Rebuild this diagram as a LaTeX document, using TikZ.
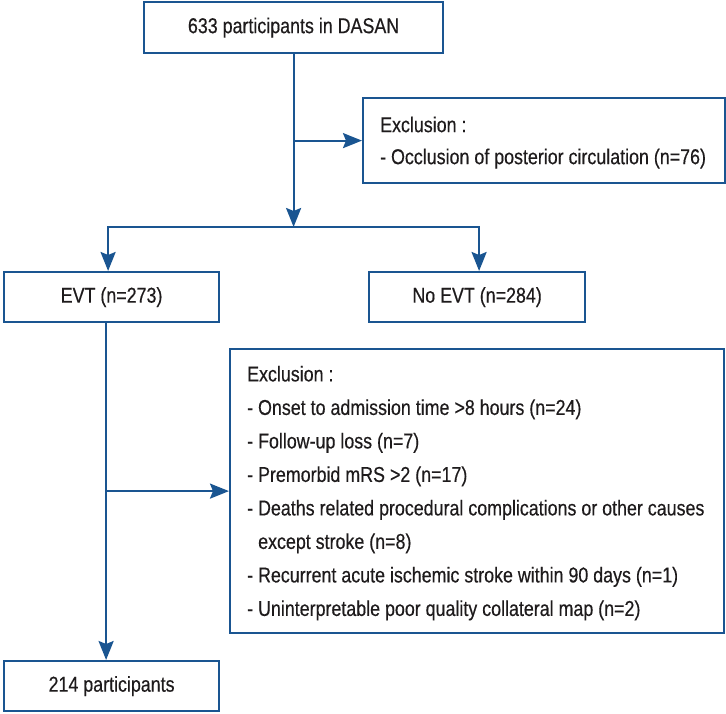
\documentclass[tikz,border=0pt]{standalone}
\usepackage{fontspec}
\setmainfont{Liberation Sans}[FakeStretch=0.83,FakeBold=0.4]
\usetikzlibrary{arrows.meta,calc}
\definecolor{fcblue}{RGB}{26,85,145}
\definecolor{fctext}{RGB}{30,27,28}
\begin{document}
\begin{tikzpicture}[x=1pt,y=-1pt,
  box/.style={draw=fcblue, line width=2.2pt, rectangle, inner sep=0pt, anchor=north west, text=fctext,
    font=\fontsize{21.5}{26}\selectfont},
  txt/.style={anchor=west, align=left, inner sep=0pt, text=fctext, font=\fontsize{21.5}{33.5}\selectfont},
  line/.style={draw=fcblue, line width=2.2pt},
  arr/.style={line, -{Stealth[length=19pt,width=15pt,inset=3pt]}}]
\useasboundingbox (0,0) rectangle (726,713);
\node[box, minimum width=299pt, minimum height=51pt] (top) at (143,1) {633 participants in DASAN};
\node[box, minimum width=362pt, minimum height=85pt] (ex1) at (362,97) {};
\node[txt, font=\fontsize{21.5}{32}\selectfont] (ex1t) at ($(ex1.west)+(18,2)$) {Exclusion :\\- Occlusion of posterior circulation (n=76)};
\node[box, minimum width=215pt, minimum height=50pt] (evt) at (3,271) {EVT (n=273)};
\node[box, minimum width=216pt, minimum height=50pt] (noevt) at (368,271) {No EVT (n=284)};
\node[box, minimum width=494pt, minimum height=284pt] (ex2) at (229,348) {};
\node[txt] (ex2t) at ($(ex2.west)+(18,2)$) {Exclusion :\\
- Onset to admission time >8 hours (n=24)\\
- Follow-up loss (n=7)\\
- Premorbid mRS >2 (n=17)\\
- Deaths related procedural complications or other causes\\
\hspace*{11pt}except stroke (n=8)\\
- Recurrent acute ischemic stroke within 90 days (n=1)\\
- Uninterpretable poor quality collateral map (n=2)};
\node[box, minimum width=215pt, minimum height=50pt] (final) at (3,660) {214 participants};
\coordinate (j1) at (top.south |- 0,227);
\coordinate (s1) at (top.south |- ex1.west);
\coordinate (evtin) at ($(evt.north)+(-3.5,0)$);
\coordinate (noevtin) at ($(noevt.north)+(2,0)$);
\coordinate (evtout) at ($(evt.south)+(-5.5,0)$);
\coordinate (finalin) at (evtout |- final.north);
\coordinate (s2) at (evtout |- ex2.west);
\draw[arr] (top.south) -- (j1);
\draw[arr] (s1) -- (ex1.west);
\draw[arr] (j1) -| (evtin);
\draw[arr] (j1) -| (noevtin);
\draw[arr] (evtout) -- (finalin);
\draw[arr] (s2) -- (ex2.west);
\end{tikzpicture}
\end{document}
